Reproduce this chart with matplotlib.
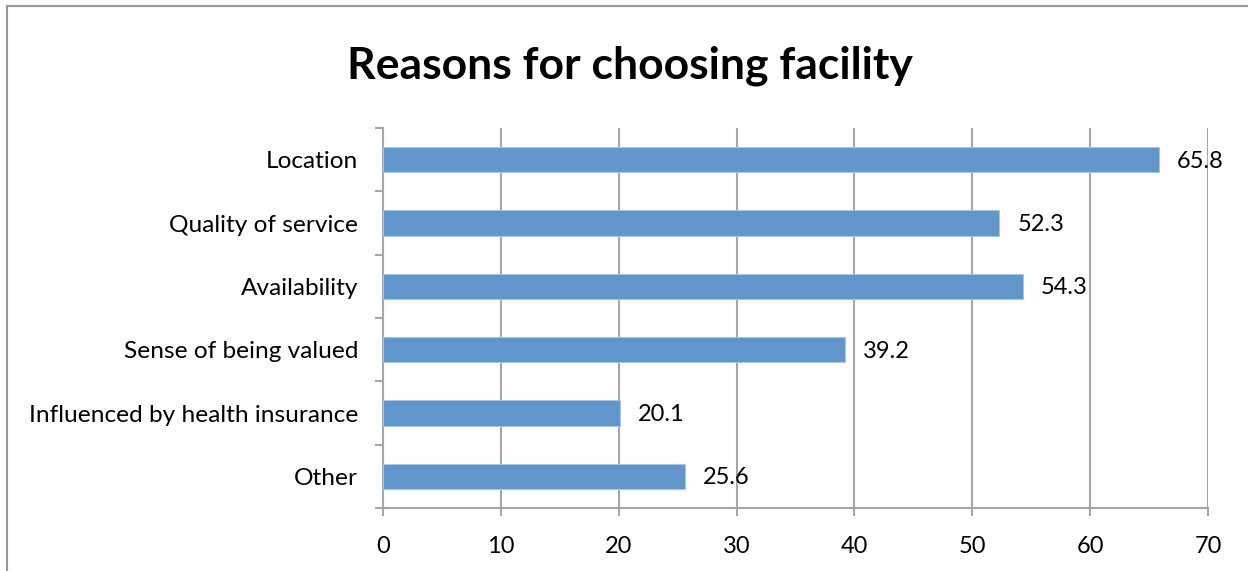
import matplotlib.pyplot as plt
from matplotlib.lines import Line2D

# daten
categories = ['Location', 'Quality of service', 'Availability',
              'Sense of being valued', 'Influenced by health insurance', 'Other']
values = [65.8, 52.3, 54.3, 39.2, 20.1, 25.6]
xticks = [0, 10, 20, 30, 40, 50, 60, 70]

plt.rcParams['font.family'] = ['Lato', 'DejaVu Sans']
grey = '#a6a6a6'

fig = plt.figure(figsize=(12.48, 5.71), dpi=100)
ax = fig.add_axes([383 / 1248, 1 - 508 / 571, (1208 - 383) / 1248, (508 - 128) / 571])

pos = list(range(len(categories)))
ax.barh(pos, values, height=0.4, color='#6096c9', edgecolor='#a9c4e0', linewidth=0.8, zorder=3)
ax.set_ylim(len(categories) - 0.5, -0.5)
ax.set_xlim(0, 70)

for p, v in zip(pos, values):
    ax.annotate(f'{v}', (v, p), xytext=(13, -1), textcoords='offset points',
                va='center', ha='left', fontsize=17, color='black', zorder=5)

ax.set_xticks(xticks)
ax.set_xticklabels([str(t) for t in xticks], fontsize=17)
ax.set_yticks(pos)
ax.set_yticklabels(categories, fontsize=17.6)
ax.tick_params(axis='y', length=0, pad=18)
ax.tick_params(axis='x', length=6, width=1.5, color=grey, pad=14)
# ticks zwischen den kategorien
ax.set_yticks([i - 0.5 for i in range(len(categories) + 1)], minor=True)
ax.tick_params(axis='y', which='minor', length=6, width=1.5, color=grey)

ax.grid(axis='x', color=grey, linewidth=1.5, zorder=0)
for s in ['top', 'right']:
    ax.spines[s].set_visible(False)
for s in ['left', 'bottom']:
    ax.spines[s].set_color(grey)
    ax.spines[s].set_linewidth(1.5)

fig.text(630 / 1248, 1 - 66 / 571, 'Reasons for choosing facility', ha='center', va='center',
         fontsize=32, fontweight='bold')

# rahmen
fig.add_artist(Line2D([7 / 1248, 1], [1 - 6 / 571, 1 - 6 / 571], color='#999999', linewidth=1.5))
fig.add_artist(Line2D([7 / 1248, 7 / 1248], [0, 1 - 6 / 571], color='#999999', linewidth=1.5))

fig.savefig('out.png', dpi=100)
